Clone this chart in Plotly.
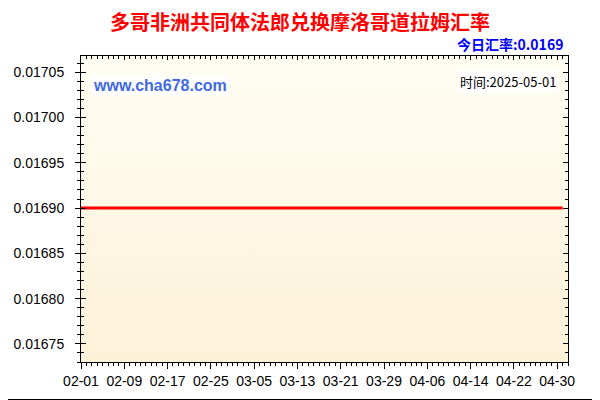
import plotly.graph_objects as go

# data
dates = ["2025-02-01", "2025-02-09", "2025-02-17", "2025-02-25", "2025-03-05",
         "2025-03-13", "2025-03-21", "2025-03-29", "2025-04-06", "2025-04-14",
         "2025-04-22", "2025-04-30", "2025-05-01"]
rates = [0.0169, 0.0169, 0.0169, 0.0169, 0.0169, 0.0169, 0.0169,
         0.0169, 0.0169, 0.0169, 0.0169, 0.0169, 0.0169]
y_ticks = [0.01675, 0.01680, 0.01685, 0.01690, 0.01695, 0.01700, 0.01705]

title = "多哥非洲共同体法郎兑换摩洛哥道拉姆汇率"
today_text = "今日汇率:0.0169"
time_text = "时间:2025-05-01"
site = "www.cha678.com"

x_range = ["2025-02-01", "2025-05-02"]
y_range = [0.016730, 0.017068]

# the page body has an 8px margin, so the figure is shrunk by that much
OFF = 8
W, H = 600 - OFF, 400 - OFF
L, R, T, B = 81 - OFF, 32, 56 - OFF, 38
pw, ph = W - L - R, H - T - B


def px(x):
    # window pixel -> paper x
    return (x - OFF - L) / pw


def py(y):
    # window pixel -> paper y
    return (H - B - (y - OFF)) / ph


grid_col = "#B8860B"
ytick_font = dict(family="Liberation Sans, Arial", size=14, color="#000000")
xtick_font = dict(family="Liberation Sans, Arial", size=14, color="#000000")

fig = go.Figure()

# gradient background
fig.add_trace(go.Scatter(
    x=[x_range[0], x_range[1], x_range[1], x_range[0], x_range[0]],
    y=[y_range[0], y_range[0], y_range[1], y_range[1], y_range[0]],
    mode="lines", line=dict(width=0), fill="toself",
    fillgradient=dict(type="vertical",
                      colorscale=[[0, "#FDF1D8"], [1, "#FFFEF3"]]),
    hoverinfo="skip", showlegend=False,
))

fig.add_trace(go.Scatter(
    x=dates, y=rates, mode="lines",
    line=dict(color="#FF0000", width=3),
    showlegend=False,
    hovertemplate="%{x}<br>%{y:.4f}<extra></extra>",
))

# dummy traces so the overlay axes get drawn
fig.add_trace(go.Scatter(x=[x_range[0]], y=[y_range[0]], xaxis="x2", yaxis="y2",
                         mode="markers", marker=dict(opacity=0), showlegend=False,
                         hoverinfo="skip"))
fig.add_trace(go.Scatter(x=[x_range[0]], y=[y_range[0]], xaxis="x", yaxis="y3",
                         mode="markers", marker=dict(opacity=0), showlegend=False,
                         hoverinfo="skip"))

day = 86400000
fig.update_layout(
    width=W, height=H,
    margin=dict(l=L, r=R, t=T, b=B, autoexpand=False),
    paper_bgcolor="#FFFFFF",
    plot_bgcolor="rgba(0,0,0,0)",
    xaxis=dict(
        type="date", range=x_range, automargin=False,
        tick0="2025-02-01", dtick=8 * day, tickformat="%m-%d",
        ticks="outside", ticklen=6, tickcolor="#000000",
        minor=dict(ticks="outside", ticklen=3, dtick=day, tick0="2025-02-01",
                   tickcolor="#000000", showgrid=False),
        showgrid=False, zeroline=False,
        showline=True, linecolor="#000000", linewidth=1,
        tickfont=xtick_font,
    ),
    xaxis2=dict(
        type="date", range=x_range, overlaying="x", side="top", anchor="y2",
        automargin=False,
        tick0="2025-02-01", dtick=8 * day,
        ticks="inside", ticklen=4, tickcolor="#000000",
        minor=dict(ticks="inside", ticklen=3, dtick=day, tick0="2025-02-01",
                   tickcolor="#000000"),
        showticklabels=False, showgrid=False, zeroline=False,
        showline=True, linecolor="#000000", linewidth=1,
    ),
    yaxis=dict(
        range=y_range, tickvals=y_ticks, tickformat=".5f", automargin=False,
        ticks="outside", ticklen=5, tickcolor="#000000",
        ticklabelstandoff=8,
        minor=dict(ticks="outside", ticklen=3, dtick=0.00001, tick0=0.01675,
                   tickcolor="#000000", showgrid=False),
        showgrid=True, gridcolor=grid_col, gridwidth=1,
        zeroline=False, showline=True, linecolor="#000000", linewidth=1,
        tickfont=ytick_font,
    ),
    yaxis2=dict(
        range=y_range, overlaying="y", side="left", anchor="x2", automargin=False,
        tickvals=y_ticks, ticks="inside", ticklen=5, tickcolor="#000000",
        minor=dict(ticks="inside", ticklen=3, dtick=0.00001, tick0=0.01675,
                   tickcolor="#000000"),
        showticklabels=False, showgrid=False, zeroline=False, showline=False,
    ),
    yaxis3=dict(
        range=y_range, overlaying="y", side="right", anchor="x", automargin=False,
        tickvals=y_ticks, ticks="inside", ticklen=5, tickcolor="#000000",
        minor=dict(ticks="inside", ticklen=3, dtick=0.00001, tick0=0.01675,
                   tickcolor="#000000"),
        showticklabels=False, showgrid=False, zeroline=False,
        showline=True, linecolor="#000000", linewidth=1,
    ),
)

# outer frame (right and bottom edges of the image)
fig.add_shape(type="line", xref="paper", yref="paper",
              x0=px(598.5), x1=px(598.5), y0=py(8), y1=py(399.5),
              line=dict(color="#000000", width=1.5), layer="above")
fig.add_shape(type="line", xref="paper", yref="paper",
              x0=px(8), x1=px(599.5), y0=py(399.5), y1=py(399.5),
              line=dict(color="#000000", width=1), layer="above")

fig.add_annotation(text="<b>" + title + "</b>", xref="paper", yref="paper",
                   x=px(300), y=py(22),
                   xanchor="center", yanchor="middle", showarrow=False,
                   font=dict(family="Noto Sans CJK SC", size=20, color="#FF0000"))
fig.add_annotation(text="<b>" + today_text + "</b>", xref="paper", yref="paper",
                   x=px(565), y=py(44),
                   xanchor="right", yanchor="middle", showarrow=False,
                   font=dict(family="Noto Sans CJK SC", size=14, color="#0000FF"))
fig.add_annotation(text="<b>" + site + "</b>", xref="paper", yref="paper",
                   x=px(91), y=py(85),
                   xanchor="left", yanchor="middle", showarrow=False,
                   bgcolor="#FFFFFF",
                   font=dict(family="Liberation Sans, Arial", size=16, color="#4169E1"))
fig.add_annotation(text=time_text, xref="paper", yref="paper",
                   x=px(558), y=py(81),
                   xanchor="right", yanchor="middle", showarrow=False,
                   bgcolor="#FFFFFF",
                   font=dict(family="Noto Sans CJK SC", size=13, color="#000000"))

fig.write_html("out.html")
